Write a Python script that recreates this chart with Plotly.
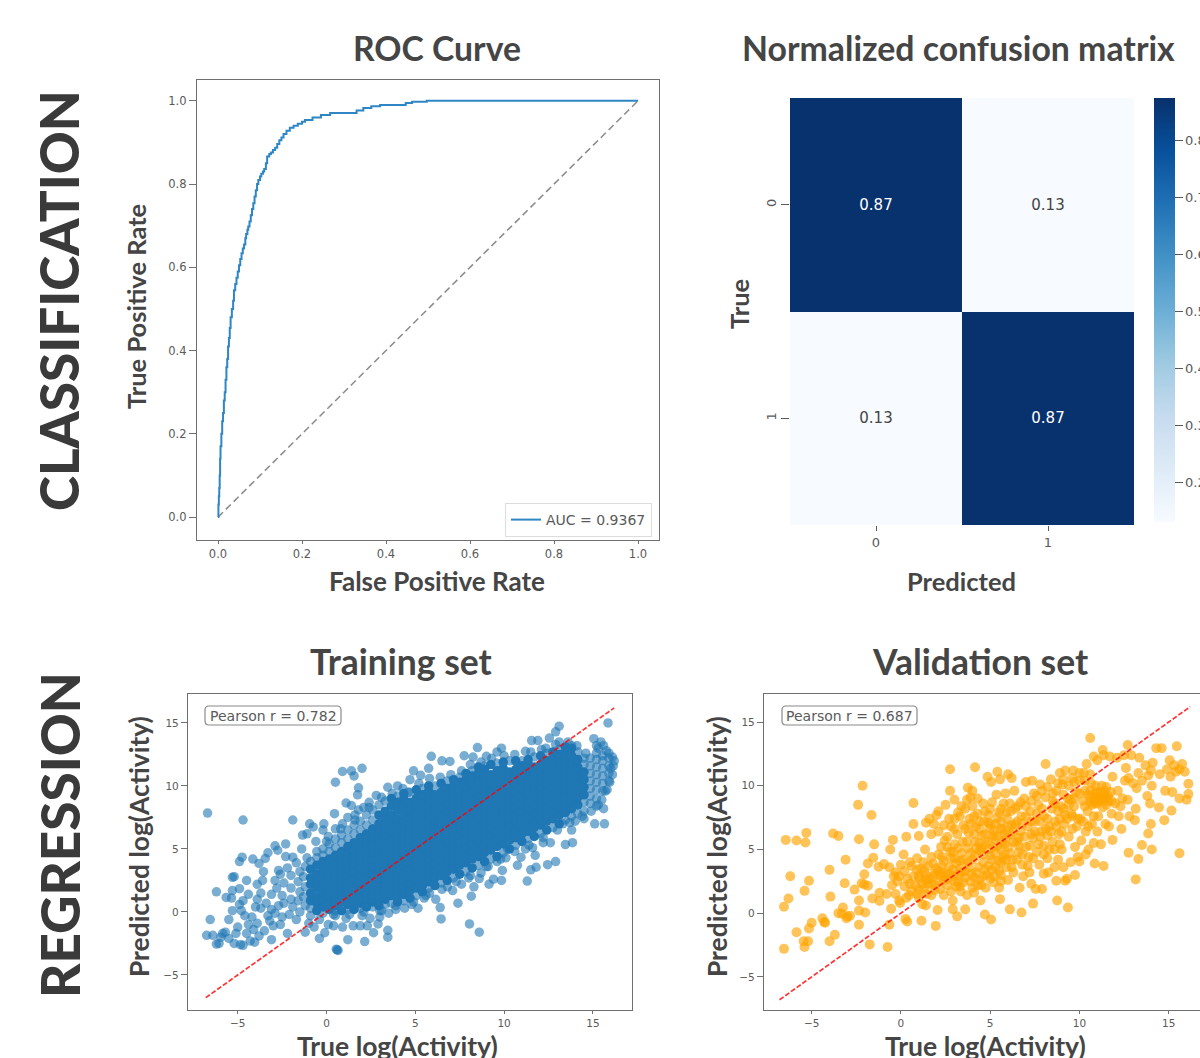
import plotly.graph_objects as go

W, H = 1200, 1058

# ---------- ROC ----------
roc_fpr = [0, 0.001, 0.002, 0.003, 0.004, 0.005, 0.006, 0.008, 0.01, 0.012, 0.014, 0.016, 0.018, 0.02, 0.022, 0.024, 0.026,
           0.028, 0.03, 0.033, 0.036, 0.038, 0.041, 0.044, 0.047, 0.05, 0.053, 0.056, 0.059, 0.062,
           0.065, 0.067, 0.07, 0.072, 0.075, 0.078, 0.081, 0.084, 0.087, 0.09, 0.093, 0.096, 0.1, 0.103, 0.107, 0.11, 0.114,
           0.117, 0.122, 0.126, 0.131, 0.136, 0.141, 0.146, 0.151, 0.156, 0.163, 0.171, 0.18,
           0.19, 0.2, 0.207, 0.225, 0.245, 0.267, 0.29, 0.314, 0.33, 0.346, 0.365, 0.386, 0.41, 0.433, 0.447, 0.462, 0.497,
           0.6, 0.8, 1.0]
roc_tpr = [0, 0.03, 0.05, 0.07, 0.1, 0.14, 0.17, 0.2, 0.23, 0.25, 0.28, 0.3, 0.33, 0.36, 0.38, 0.41, 0.43,
           0.454, 0.48, 0.5, 0.52, 0.545, 0.56, 0.575, 0.59, 0.605, 0.62, 0.634, 0.645, 0.655,
           0.67, 0.68, 0.69, 0.698, 0.71, 0.725, 0.74, 0.754, 0.77, 0.785, 0.8, 0.81, 0.818, 0.825, 0.83, 0.836, 0.85,
           0.866, 0.872, 0.876, 0.882, 0.887, 0.896, 0.905, 0.912, 0.92, 0.928, 0.935, 0.94,
           0.945, 0.95, 0.954, 0.96, 0.966, 0.971, 0.971, 0.971, 0.977, 0.983, 0.987, 0.99, 0.99, 0.99, 0.995, 0.998, 1.0,
           1.0, 1.0, 1.0]
diag_roc = [0, 1]
roc_label = "AUC = 0.9367"

# ---------- Confusion matrix ----------
cm_labels = [0, 1]
cm_values = [[0.87, 0.13], [0.13, 0.87]]
cb_ticks = [0.2, 0.3, 0.4, 0.5, 0.6, 0.7, 0.8]

# ---------- Regression ----------
diag_reg = [-6.8, 16.2]
pearson_train = "Pearson r = 0.782"
pearson_val = "Pearson r = 0.687"
reg_ticks = [-5, 0, 5, 10, 15]

train_core = {
 -0.9: [0.9, 1.5, 2.2, 2.7, 3.4],
 -0.55: [0.1, 0.7, 1.2, 1.9, 2.4, 3.0, 3.7],
 -0.2: [0.4, 1.0, 1.6, 2.1, 2.8, 3.3, 4.0],
 0.15: [0.2, 0.7, 1.3, 1.9, 2.5, 3.0, 3.6, 4.2],
 0.5: [0.5, 1.1, 1.6, 2.2, 2.8, 3.3, 3.9, 4.5],
 0.85: [0.1, 0.8, 1.4, 1.9, 2.5, 3.1, 3.7, 4.3, 4.8],
 1.2: [0.6, 1.2, 1.7, 2.3, 2.9, 3.4, 4.0, 4.6, 5.2],
 1.55: [0.2, 0.9, 1.5, 2.0, 2.6, 3.2, 3.8, 4.4, 4.9, 5.5],
 1.9: [0.7, 1.3, 1.8, 2.4, 3.0, 3.5, 4.1, 4.7, 5.3, 5.9],
 2.25: [0.4, 1.0, 1.6, 2.2, 2.7, 3.3, 3.9, 4.5, 5.0, 5.6, 6.2],
 2.6: [0.8, 1.4, 1.9, 2.5, 3.1, 3.6, 4.2, 4.8, 5.4, 6.0, 6.6],
 2.95: [0.5, 1.1, 1.7, 2.3, 2.8, 3.4, 4.0, 4.6, 5.1, 5.7, 6.3, 7.0, 7.7],
 3.3: [1.0, 1.5, 2.1, 2.6, 3.2, 3.8, 4.3, 4.9, 5.5, 6.1, 6.7, 7.4, 8.0],
 3.65: [1.3, 1.8, 2.4, 3.0, 3.5, 4.1, 4.7, 5.2, 5.8, 6.4, 7.1, 7.7, 8.4, 9.0],
 4.0: [0.8, 1.2, 1.6, 2.2, 2.7, 3.3, 3.9, 4.4, 5.0, 5.6, 6.2, 6.8, 7.4, 8.1, 8.7],
 4.35: [1.4, 2.0, 2.5, 3.1, 3.7, 4.2, 4.8, 5.3, 5.9, 6.5, 7.1, 7.8, 8.4, 9.0, 9.4],
 4.7: [1.1, 1.7, 2.3, 2.8, 3.4, 4.0, 4.5, 5.1, 5.7, 6.3, 6.9, 7.5, 8.1, 8.7],
 5.05: [1.9, 2.5, 3.1, 3.6, 4.2, 4.8, 5.4, 6.0, 6.6, 7.2, 7.8, 8.4, 9.0, 9.7],
 5.4: [1.6, 2.1, 2.7, 3.3, 3.9, 4.5, 5.1, 5.7, 6.3, 6.9, 7.5, 8.1, 8.7, 9.3],
 5.75: [2.4, 3.0, 3.6, 4.2, 4.8, 5.4, 6.0, 6.6, 7.2, 7.8, 8.4, 9.0, 9.6, 10.0],
 6.1: [2.1, 2.7, 3.3, 3.9, 4.5, 5.1, 5.7, 6.3, 6.9, 7.5, 8.1, 8.7, 9.3],
 6.45: [2.9, 3.5, 4.1, 4.7, 5.3, 5.9, 6.5, 7.1, 7.7, 8.3, 8.9, 9.5, 10.2],
 6.8: [2.5, 3.2, 3.8, 4.4, 5.0, 5.6, 6.2, 6.8, 7.4, 8.0, 8.6, 9.2, 9.8],
 7.15: [3.4, 4.0, 4.6, 5.2, 5.8, 6.4, 7.0, 7.6, 8.2, 8.8, 9.4, 10.0, 10.5],
 7.5: [3.0, 3.7, 4.3, 4.9, 5.5, 6.1, 6.7, 7.3, 7.9, 8.5, 9.1, 9.7, 10.3],
 7.85: [3.9, 4.5, 5.1, 5.7, 6.3, 6.9, 7.5, 8.1, 8.7, 9.3, 9.9, 10.5, 11.0],
 8.2: [3.5, 4.2, 4.8, 5.4, 6.0, 6.6, 7.2, 7.8, 8.4, 9.0, 9.6, 10.2, 10.8],
 8.55: [4.4, 5.0, 5.6, 6.2, 6.8, 7.4, 8.0, 8.6, 9.2, 9.8, 10.4, 11.0, 11.5],
 8.9: [4.0, 4.7, 5.3, 5.9, 6.5, 7.1, 7.7, 8.3, 8.9, 9.5, 10.1, 10.7, 11.3],
 9.25: [4.9, 5.5, 6.1, 6.7, 7.3, 7.9, 8.5, 9.1, 9.7, 10.3, 10.9, 11.7],
 9.6: [4.4, 5.2, 5.8, 6.4, 7.0, 7.6, 8.2, 8.8, 9.4, 10.0, 10.6, 11.2],
 9.95: [5.4, 6.0, 6.6, 7.2, 7.8, 8.4, 9.0, 9.6, 10.2, 10.8, 11.4, 11.9],
 10.3: [5.0, 5.7, 6.3, 6.9, 7.5, 8.1, 8.7, 9.3, 9.9, 10.5, 11.1],
 10.65: [5.9, 6.5, 7.1, 7.7, 8.3, 8.9, 9.5, 10.1, 10.7, 11.3, 12.0],
 11.0: [5.6, 6.2, 6.8, 7.4, 8.0, 8.6, 9.2, 9.8, 10.4, 11.0, 11.6],
 11.35: [6.4, 7.0, 7.6, 8.2, 8.8, 9.4, 10.0, 10.6, 11.2, 11.8, 12.1],
 11.7: [6.0, 6.7, 7.3, 7.9, 8.5, 9.1, 9.7, 10.3, 10.9, 11.5],
 12.05: [6.9, 7.5, 8.1, 8.7, 9.3, 9.9, 10.5, 11.1, 11.7, 12.4],
 12.4: [6.5, 7.2, 7.8, 8.4, 9.0, 9.6, 10.2, 10.8, 11.4, 12.0],
 12.75: [7.4, 8.0, 8.6, 9.2, 9.8, 10.4, 11.0, 11.6, 12.2, 12.7],
 13.1: [7.0, 7.7, 8.3, 8.9, 9.5, 10.1, 10.7, 11.3, 11.9, 12.5],
 13.45: [7.9, 8.5, 9.1, 9.7, 10.3, 10.9, 11.5, 12.1, 12.7, 13.1],
 13.8: [8.2, 8.8, 9.4, 10.0, 10.6, 11.2, 11.8, 12.4, 13.0],
 14.15: [8.5, 9.1, 9.7, 10.3, 10.9, 11.5, 12.1],
 14.5: [9.3, 9.9, 10.5, 11.1],
}

train_edge = [
 (-6.7,7.85),(-4.7,7.3),(-1.9,7.3),(0.5,10.3),(0.9,11.15),(1.4,11.2),(1.55,10.8),(2,11.4),(1.8,9.85),(1.75,9.3),
 (1.1,8.65),(1.4,8.45),(1.8,8.1),(2.4,8.7),(2.8,9.25),(3.45,9.9),(4,10),(4.6,9.5),(4.9,11.2),(4.7,10.5),(5.3,10.85),
 (5.75,11.4),(5.9,12.35),(6.5,12),(6.95,11.95),(7.75,12.4),(8.5,13.05),(8.25,12.3),(9,12.35),(9.6,12.7),(9.85,13),
 (11.2,12.75),(11.55,13.6),(11.9,13.6),(12.55,13.8),(12.9,14.3),(13.1,14.75),(13.1,13.5),(12.35,13),(15.85,15),
 (15.05,13.75),(15.45,13.5),(15.3,13.0),(15.75,12.8),(15.6,13.2),(16.1,12.3),(16.15,11.6),(16.1,10.9),(15.95,10.3),
 (15.7,9.6),(15.5,8.9),(15.2,8.4),(14.9,8.0),(15.6,8.2),(15.1,7.0),(15.65,7.0),(14.4,7.6),(14.0,7.2),(13.8,6.5),
 (13.3,7),(13.85,5.5),(13.45,5.35),(12.9,4),(12.45,3.75),(11.3,2.45),(9.85,2.5),(9.9,3.3),(9.4,2.6),(9.15,2.2),
 (8.6,2.65),(8.3,2),(8.15,1.25),(7.4,0.7),(8.6,-1.6),(8.05,-0.95),(6.45,-0.55),(6.4,0.35),(6.15,1),(5.15,0.3),
 (10.75,3.7),(11.5,3.35),(11.8,3.55),(11.75,4.5),(10.95,4.35),(10.1,4.3),(12.6,5.5),(12.2,5.5),(11.6,5.1),(11.2,5.0),
 (10.2,5.0),(9.6,4.0),(9.1,3.6),(8.7,3.1),(8.0,2.7),(7.6,2.2),(7.1,1.7),(6.8,2.0),(5.8,1.5),(5.5,1.1),(4.9,0.8),
 (4.4,0.3),(3.9,0.2),(3.5,-0.1),(3.1,0.1),(-6.2,1.6),(-6.55,-0.6),(-6.75,-1.85),(-6.4,-1.85),(-6.2,-2.55),(-6.05,-2.5),
 (-5.85,-1.7),(-5.7,-1.6),(-5.2,-2.5),(-4.7,-2.65),(-4.85,-2.6),(-5.5,-0.6),(-5.3,0.1),(-5.65,1.15),(-5.35,1.1),
 (-5.3,1.7),(-5.3,2.75),(-5.2,2.8),(-4.9,1.85),(-4.5,2.5),(-4.9,4),(-4.75,4.35),(-4.15,4.2),(-3.8,3.85),(-3.45,4.25),
 (-3.55,3.2),(-2.9,5.25),(-2.75,4.9),(-2.3,5.4),(-2.7,3.3),(-1.9,4.35),(-1.4,5),(-1.35,6.1),(-0.95,7),(-0.15,7),
 (-0.2,6.5),(0.45,7.8),(-0.75,6.75),(-1.1,6.2),(-0.6,5.6),(0.1,6.0),(0.5,6.6),(0.9,7.0),(1.2,7.5),(1.6,7.7),(2.1,8.3),
 (-4.9,0.6),(-4.7,0.9),(-5.0,-1.2),(-4.6,-0.3),(-4.4,-1.0),(-4.2,-0.4),(-4.5,-1.7),(-4.1,-1.4),(-3.9,-0.9),(-3.8,-1.9),
 (-3.5,-1.5),(-3.7,0.3),(-3.9,1.0),(-3.7,1.5),(-3.9,2.2),(-3.4,0.7),(-3.1,0.2),(-3.3,-0.3),(-2.9,-0.1),(-3.0,-1.1),
 (-3.1,-2.2),(-2.6,-1.0),(-2.5,-0.4),(-2.7,0.5),(-3.1,1.4),(-2.8,1.9),(-2.5,1.3),(-2.4,0.7),(-2.9,2.5),(-2.4,2.3),
 (-2.6,3.0),(-2.2,3.5),(-2.0,1.9),(-2.0,1.0),(-1.9,0.4),(-2.1,-0.2),(-2.2,-1.7),(-1.7,-0.6),(-1.5,0.0),(-1.6,0.9),
 (-1.5,1.6),(-1.6,2.4),(-1.5,3.2),(-1.7,3.9),(-1.2,0.5),(-1.3,1.2),(-1.2,2.0),(-1.3,2.8),(-1.2,3.6),(-1.1,4.3),
 (-1.2,-1.6),(-1.0,-0.9),(-0.9,-0.3),(-0.7,-1.2),(-0.4,-0.6),(-0.4,-2.1),(-0.1,-1.65),(0.1,-1.0),(0.4,-1.1),(0.6,-3),
 (0.55,-2.95),(0.65,-3.05),(0.5,-0.3),(0.9,-1.2),(1.1,-0.5),(1.2,-2.2),(1.5,-1.1),(1.9,-1.1),(2.15,-2.35),(2.0,-0.3),
 (2.45,-0.5),(2.65,-1.65),(2.9,-0.95),(3.45,-2),(3.45,-1.45),(2.3,-1.1),(3.0,-0.4),(-3.3,4.7),(-4.3,-2.3),(-4.05,-2.4),
 (-3.2,-0.7),(-3.6,2.5),(-4.4,1.4),(-4.8,0.1),(-4.0,0.4),(-5.1,-1.7),(-5.5,-2.1),(-5.95,-2.0),(-2.3,4.4),(-2.0,2.9),
 (0.0,5.6),(0.8,6.6),(1.6,7.3),(2.4,8.3),(3.1,9.1),(3.7,9.4),(4.3,9.8),(5.2,10.2),(5.8,10.6),(6.4,10.7),(7.0,10.9),(7.6,11.2),
 (8.1,11.7),(8.7,11.9),(9.3,12.2),(10.0,12.4),(10.6,12.5),(11.5,12.7),(12.1,12.9),(12.9,13.3),(13.6,13.5),(14.1,13.2),(14.6,12.6),
 (0.4,-0.2),(1.3,-0.2),(2.1,0.0),(3.0,0.1),(3.9,0.5),(4.8,0.6),(5.6,1.3),(6.5,1.8),(7.3,2.4),(8.1,2.9),(9.0,3.6),(9.8,4.2),(10.6,4.8),
 (11.4,5.3),(12.2,5.9),(13.0,6.5),(13.7,7.1),(14.5,7.4),(15.3,8.5),(15.8,9.7),(16.0,11.4),(16.2,12.0),(15.9,12.6),(15.2,13.2),
 (-0.9,0.3),(-0.9,4.0),(-0.55,4.3),(-0.55,4.8),(-0.2,-0.1),(-0.2,4.5),(-0.2,5.0),(0.15,4.8),(0.15,5.4),(0.5,0.1),(0.5,5.1),(0.5,5.8),
 (0.85,5.5),(0.85,6.1),(1.2,0.2),(1.2,5.8),(1.2,6.5),(1.55,6.2),(1.55,6.9),(1.9,0.3),(1.9,6.5),(1.9,7.2),(2.25,6.9),(2.25,7.7),
 (2.6,0.4),(2.6,7.3),(2.6,8.1),(2.95,8.5),(3.3,0.6),(3.3,8.8),(3.65,0.7),(4.0,9.2),(4.35,0.9),(4.7,9.5),(5.05,1.3),(5.4,9.8),(5.75,1.9),
 (6.1,10.0),(6.45,2.3),(6.8,10.4),(7.15,2.7),(7.5,10.7),(7.85,3.2),(8.2,11.2),(8.55,3.7),(8.9,11.6),(9.25,4.2),(9.6,11.8),(9.95,4.7),
 (10.3,12.0),(10.65,5.3),(11.0,12.0),(11.35,5.8),(11.7,12.3),(12.05,6.2),(12.4,12.6),(12.75,6.7),(13.1,12.9),(13.45,7.3),(13.8,7.6),
 (13.8,13.2),(14.15,7.8),(14.15,12.7),(14.5,8.0),(14.5,8.7),(14.5,11.7),(14.5,12.2),(14.85,8.6),(14.85,9.2),(14.85,9.8),(14.85,10.4),
 (14.85,11.0),(14.85,11.6),(14.85,12.2),(15.2,9.0),(15.2,9.7),(15.2,10.3),(15.2,10.9),(15.2,11.5),(15.2,12.1),(15.2,12.6),(15.55,9.6),
 (15.55,10.2),(15.55,10.8),(15.55,11.4),(15.55,12.0),(15.55,12.4),(15.9,10.4),(15.9,11.0),(15.9,11.6),(15.9,12.2),
]

val_points = [
 (-6.45,5.75),(-5.85,5.7),(-5.35,5.55),(-5.3,6.3),(-3.8,6.25),(-3.5,6.05),(-2.35,5.8),(-2.4,8.5),(-2.15,10),(-1.65,7.7),
 (-1.5,5.4),(-3.1,4.2),(-4,3.4),(-6.2,2.9),(-5.15,2.55),(-5.4,1.75),(-6.3,1.15),(-6.55,0.5),(-3.95,1.3),(-3.15,2.35),
 (-5.85,-1.5),(-6.55,-2.8),(-5.4,-2.65),(-5.2,-2.2),(-5.45,-2.2),(-5.15,-1.2),(-5,-0.75),(-4.4,-0.4),(-4.25,-0.75),
 (-4.3,-0.7),(-3.7,-1.7),(-4,-2.2),(-1.75,-2.45),(-0.75,-2.65),(-2.35,-0.9),(-0.65,-0.9),(-3.5,0),(-3.25,0.45),(-3.3,-0.05),
 (-3,-0.25),(-2.85,-0.2),(-3.05,-0.4),(-2.35,0.2),(-2,0.05),(-2.35,1),(-2.6,1.85),(-2.2,2.35),(-2.05,3.05),(-1.85,2.15),
 (-2.05,2.25),(-1.85,3.9),(-1.55,4.35),(-1.6,1.15),(-1.2,0.95),(-1.2,1.6),(-1.25,3.65),(-0.95,3.85),(-0.6,5),(-0.45,5.75),
 (0.3,6),(0.7,8.65),(0.7,7),(1,6.05),(2.75,11.3),(4.15,11.45),(2.75,9.6),(3.75,9.85),(10.6,13.75),(12.7,13.2),(11.3,12.8),
 (14.3,12.95),(14.6,12.95),(15.45,13.1),(15.05,12),(16.1,10.15),(16.1,9.35),(16,8.9),(15.6,9),(15.15,8.05),(14.45,8.3),
 (14.75,7.3),(14,7),(13.85,6.25),(13.5,5.35),(14.05,5),(15.6,4.7),(13.3,4.25),(12.75,4.75),(13.15,2.65),(11.85,5.75),
 (11.35,3.7),(10.85,3.9),(10.35,4.6),(10,4.05),(9.75,3),(9.2,2.55),(8.7,2.55),(8.75,1),(9.35,0.45),(7.4,0.75),(6.75,0.05),
 (6.1,0.3),(4.7,-0.1),(5.05,-0.5),(5.55,1.1),(3.6,0.3),(3.15,-0.25),(2.9,0.3),(2.05,0.25),(1.95,-1),(1.15,-0.6),(0.35,-0.65),
 (0.25,-0.45),(-0.05,0.8),(-0.55,0.35),(-0.4,2.9),(-0.65,3.6),(-0.3,3.2),(-0.8,1.5),(-0.5,2.2),(-0.2,2.5),(-0.3,1.5),
 (-0.1,1.0),(0.0,3.8),(0.15,4.6),(0.2,3.3),(0.35,2.7),(0.45,1.4),(0.5,4.0),(0.5,2.3),(0.6,3.7),(0.7,2.9),(0.8,2.2),(0.9,3.4),
 (0.9,4.3),(1.0,1.2),(1.0,1.9),(1.05,2.7),(1.1,3.5),(1.2,0.7),(1.25,4.0),(1.35,5.0),(1.4,3.0),(1.5,2.3),(1.45,1.5),(1.4,0.6),
 (1.4,7.1),(1.6,7.4),(1.55,3.7),(1.7,4.4),(1.7,6.2),(1.8,2.9),(1.85,7.0),(1.9,1.8),(2.0,3.5),(2.0,7.7),(2.1,4.6),(2.1,8.0),
 (2.15,2.5),(2.25,5.2),(2.3,3.2),(2.4,1.4),(2.4,4.1),(2.45,5.7),(2.5,8.5),(2.6,2.2),(2.6,6.0),(2.7,3.6),(2.75,4.8),(2.8,6.8),
 (2.9,1.0),(2.95,2.9),(3.0,4.3),(3.0,5.4),(3.0,7.4),(3.0,8.9),(3.1,2.1),(3.15,6.2),(3.2,7.9),(3.3,3.5),(3.35,1.7),(3.4,4.7),
 (3.45,5.6),(3.5,6.9),(3.6,8.2),(3.6,2.8),(3.7,1.4),(3.75,4.0),(3.75,5.1),(3.8,6.3),(3.85,7.4),(3.9,9.1),(3.95,3.1),(4.0,2.0),
 (4.0,8.4),(4.1,1.6),(4.15,4.5),(4.15,5.6),(4.2,6.8),(4.3,7.8),(4.3,9.0),(4.35,3.6),(4.4,2.6),(4.45,1.0),(4.5,5.1),(4.55,6.1),
 (4.6,4.0),(4.65,7.2),(4.7,8.0),(4.75,2.0),(4.8,3.0),(4.85,10.7),(4.9,5.6),(4.95,6.6),(5.0,4.5),(5.0,8.2),(5.05,10.3),(5.1,3.4),
 (5.2,2.4),(5.2,5.2),(5.25,6.1),(5.3,7.0),(5.35,9.3),(5.4,11.1),(5.45,4.1),(5.5,2.0),(5.5,7.9),(5.55,10.5),(5.6,3.0),(5.65,5.6),
 (5.7,6.6),(5.75,8.6),(5.8,4.6),(5.85,9.4),(5.9,3.6),(5.95,7.4),(6.0,2.6),(6.0,10.9),(6.05,5.2),(6.1,6.2),(6.15,8.0),(6.2,10.6),
 (6.25,4.2),(6.3,3.2),(6.35,9.6),(6.4,7.0),(6.5,5.6),(6.55,8.4),(6.6,4.8),(6.65,2.0),(6.7,6.4),(6.75,7.6),(6.8,3.8),(6.85,2.9),
 (6.9,9.0),(7.0,5.2),(7.0,10.3),(7.1,6.8),(7.15,4.4),(7.2,3.2),(7.25,8.0),(7.3,2.3),(7.35,10.4),(7.4,5.9),(7.45,9.4),(7.5,7.2),
 (7.55,1.9),(7.6,4.8),(7.7,8.5),(7.75,3.8),(7.8,10.1),(7.85,6.4),(7.9,1.9),(8.0,3.1),(8.0,5.3),(8.0,7.6),(8.1,11.7),(8.1,9.1),
 (8.2,4.3),(8.25,3.2),(8.3,6.8),(8.4,10.5),(8.45,8.2),(8.5,5.6),(8.6,3.6),(8.65,7.2),(8.7,9.6),(8.8,4.2),(8.85,6.2),(8.9,11.0),
 (8.95,8.4),(9.0,5.0),(9.05,10.1),(9.1,3.6),(9.15,7.0),(9.2,11.2),(9.3,2.7),(9.35,9.0),(9.4,6.0),(9.5,4.0),(9.55,7.8),(9.6,10.6),
 (9.65,11.2),(9.7,8.4),(9.75,5.2),(9.8,9.5),(9.85,6.8),(9.9,4.4),(10.0,10.4),(10.05,7.4),(10.1,5.7),(10.2,8.8),(10.25,11.0),
 (10.3,9.6),(10.35,6.4),(10.4,11.7),(10.45,8.0),(10.5,5.0),(10.6,9.1),(10.65,10.2),(10.7,7.0),(10.8,12.3),(10.8,5.5),(10.85,8.6),
 (10.9,9.5),(11.0,12.0),(11.0,6.4),(11.05,7.6),(11.1,9.0),(11.2,5.4),(11.25,10.0),(11.3,8.3),(11.35,12.4),(11.4,9.3),(11.45,7.0),
 (11.5,9.9),(11.6,8.8),(11.65,6.8),(11.7,12.3),(11.75,9.5),(11.8,7.8),(11.85,10.7),(12.0,8.6),(12.1,12.2),(12.15,9.6),(12.2,7.6),
 (12.3,8.4),(12.35,6.6),(12.4,9.0),(12.5,12.4),(12.55,10.4),(12.6,11.4),(12.7,8.9),(12.75,10.6),(12.8,7.6),(12.9,12.4),(13.0,10.2),
 (13.1,7.3),(13.15,8.2),(13.2,9.8),(13.3,11.0),(13.35,12.2),(13.5,10.4),(13.7,11.6),(13.8,9.2),(13.85,10.8),(13.95,8.6),(14.0,11.2),
 (14.05,10.0),(14.1,11.8),(14.5,10.9),(14.8,9.6),(14.9,11.3),(15.1,10.7),(15.2,9.5),(15.3,11.6),(15.4,11.1),(15.6,11.3),(15.75,11.7),
 (15.9,11.1),(5.6,4.0),(4.4,4.9),(5.1,5.9),(5.8,5.4),(4.7,5.4),(5.3,4.7),(4.9,7.1),(5.6,7.2),(6.2,6.9),(6.6,5.9),(7.3,6.2),(7.8,7.2),
 (8.2,6.1),(8.6,8.6),(9.1,9.3),(9.5,8.9),(10.7,8.5),(11.1,8.8),(11.4,8.9),(11.6,9.2),(3.4,3.2),(2.5,3.0),(3.1,3.9),(3.9,4.7),(1.9,3.1),
 (1.2,2.3),(1.3,3.3),(1.8,3.9),(2.2,3.0),(2.6,2.7),(2.9,3.4),(3.2,2.4),(3.6,3.3),(3.9,2.5),(4.2,3.2),(4.5,2.2),(4.7,3.4),(5.0,2.7),
 (5.3,3.6),(5.6,2.5),(5.9,4.2),(6.2,3.6),(6.5,4.2),(6.8,4.6),(7.1,3.7),(7.4,4.3),(7.7,5.4),(8.0,4.6),(8.3,5.0),(8.6,5.0),(8.9,5.4),
 (2.3,4.4),(2.6,5.2),(2.9,4.8),(3.2,5.1),(3.5,4.2),(3.7,5.6),(4.0,4.2),(4.2,5.1),(4.4,5.5),(4.6,4.6),(4.9,5.0),(5.1,4.2),(5.4,5.3),
 (5.6,5.0),(5.9,5.9),(6.1,4.7),(6.3,5.6),(6.6,5.3),(6.9,6.0),(7.2,5.3),(7.5,6.4),(7.8,6.0),(8.1,6.6),(8.4,6.4),(8.7,6.8),(9.0,6.4),
 (9.3,7.4),(9.6,6.6),(9.9,7.4),(10.2,7.2),(10.5,6.8),(10.8,7.6),(4.1,6.2),(4.4,6.6),(4.7,6.2),(5.0,7.0),(5.2,6.5),(5.4,6.0),(5.6,6.6),
 (5.8,6.2),(6.0,6.8),(6.3,6.4),(6.5,7.2),(6.8,7.0),(7.0,7.6),(7.3,7.2),(7.6,7.8),(7.9,8.2),(8.2,7.4),(8.5,8.8),(8.8,8.0),(9.1,8.2),
 (9.4,8.5),(9.7,9.0),(10.0,9.4),(10.3,8.4),(10.6,9.6),(10.9,10.0),(11.2,9.5),(11.5,9.0),(11.8,8.8),(3.6,6.6),(3.9,7.0),(4.1,7.6),(4.4,7.2),
 (4.6,8.6),(4.9,7.7),(5.1,8.7),(5.4,7.5),(5.6,8.2),(5.9,7.9),(6.1,8.6),(6.4,8.2),(6.7,8.7),(7.0,8.4),(7.3,8.8),(7.6,9.2),(7.9,9.6),
 (8.2,9.9),(8.5,9.4),(8.8,10.2),(9.1,10.5),(9.4,10.0),(9.7,10.3),(10.0,11.0),(10.3,10.4),(10.6,10.9),(2.1,6.4),(2.4,6.9),(2.7,7.4),(3.0,6.6),
 (3.3,7.6),(3.4,8.4),(3.7,8.9),(4.0,9.6),(1.0,2.9),(0.6,1.7),(0.2,2.1),(-0.1,2.9),(0.3,1.2),(1.7,1.4),(2.2,1.9),(2.8,1.7),(3.3,2.1),
 (0.9,1.5),(1.3,1.9),(1.6,2.7),(1.9,2.2),(2.1,3.3),(2.4,2.6),(2.7,3.1),(3.0,2.5),(3.2,3.0),(3.5,2.4),(3.8,3.6),(4.1,2.8),(4.3,2.2),(4.6,2.9),
 (4.9,3.7),(5.2,2.9),(5.5,3.3),(5.7,4.3),(1.7,2.3),(2.3,3.7),(1.4,2.6),(3.3,4.1),(2.8,4.3),(10.8,8.9),(11.0,9.4),(11.3,9.1),(11.5,8.5),(10.6,8.7),
 (11.2,8.9),(11.0,8.6),(10.9,9.1),(11.4,9.6),(10.5,9.3),(9.2,7.7),(9.6,7.6),(8.9,7.4),
]

train_x = [x for x, ys in train_core.items() for _ in ys]
train_y = [y for ys in train_core.values() for y in ys]
edge_x = [p[0] for p in train_edge]
edge_y = [p[1] for p in train_edge]
val_x = [p[0] for p in val_points]
val_y = [p[1] for p in val_points]


def dom_x(a, b):
    return [a / W, b / W]


def dom_y(top, bottom):
    return [1 - bottom / H, 1 - top / H]


TICKC = "#5a5a5a"
LINEC = "#707070"
TITLE = "#454545"
FF = "Lato"
tickfont = dict(family="DejaVu Sans", size=11.5, color=TICKC)
smalltick = dict(family="DejaVu Sans", size=10.5, color=TICKC)

fig = go.Figure()

fig.add_trace(go.Scatter(x=diag_roc, y=diag_roc, mode="lines", showlegend=False, xaxis="x", yaxis="y",
                         line=dict(color="#8a8a8a", width=1.5, dash="7px,4px")))
fig.add_trace(go.Scatter(x=roc_fpr, y=roc_tpr, mode="lines", name=roc_label, xaxis="x", yaxis="y",
                         line=dict(color="#2f86c5", width=2, shape="hv")))

fig.add_trace(go.Heatmap(z=cm_values, x=cm_labels, y=cm_labels, xaxis="x2", yaxis="y2", colorscale="Blues",
                         zmin=0.13, zmax=0.875, texttemplate="%{z:.2f}", textfont=dict(family="DejaVu Sans", size=15),
                         showscale=True,
                         colorbar=dict(x=1154 / W, xanchor="left", xpad=0, ypad=0, thickness=21, thicknessmode="pixels",
                                       len=424, lenmode="pixels", y=1 - 98 / H, yanchor="top", outlinewidth=0,
                                       tickmode="array", tickvals=cb_ticks, tickformat=".1f", ticks="outside",
                                       ticklen=8, tickcolor=TICKC, tickfont=dict(family="DejaVu Sans", size=13, color=TICKC))))

fig.add_trace(go.Scatter(x=train_x, y=train_y, mode="markers", showlegend=False, xaxis="x3", yaxis="y3",
                         marker=dict(color="#1f77b4", size=9.5, opacity=1, line=dict(width=0))))
fig.add_trace(go.Scatter(x=edge_x, y=edge_y, mode="markers", showlegend=False, xaxis="x3", yaxis="y3",
                         marker=dict(color="#1f77b4", size=9.5, opacity=0.6, line=dict(width=0))))
fig.add_trace(go.Scatter(x=diag_reg, y=diag_reg, mode="lines", showlegend=False, xaxis="x3", yaxis="y3",
                         line=dict(color="rgba(255,0,0,0.8)", width=1.7, dash="5px,2px")))
fig.add_trace(go.Scatter(x=val_x, y=val_y, mode="markers", showlegend=False, xaxis="x4", yaxis="y4",
                         marker=dict(color="orange", size=10, opacity=0.65, line=dict(width=0))))
fig.add_trace(go.Scatter(x=diag_reg, y=diag_reg, mode="lines", showlegend=False, xaxis="x4", yaxis="y4",
                         line=dict(color="rgba(255,0,0,0.8)", width=1.7, dash="5px,2px")))


def boxed(font=tickfont, ticklen=4, **kw):
    return dict(showgrid=False, zeroline=False, showline=True, linecolor=LINEC, linewidth=1.3, mirror=True,
                ticks="outside", ticklen=ticklen, tickcolor=LINEC, tickfont=font, **kw)


roc_ticks = [0, 0.2, 0.4, 0.6, 0.8, 1.0]
fig.update_layout(
    width=W, height=H, margin=dict(l=0, r=0, t=0, b=0, autoexpand=False),
    paper_bgcolor="white", plot_bgcolor="white",
    xaxis=boxed(domain=dom_x(197, 659), range=[-0.05, 1.05], tickvals=roc_ticks, tickformat=".1f", anchor="y", ticklen=3),
    yaxis=boxed(domain=dom_y(80, 540), range=[-0.055, 1.05], tickvals=roc_ticks, tickformat=".1f", anchor="x", ticklen=7),
    xaxis2=dict(domain=dom_x(790, 1134), range=[-0.5, 1.5], tickvals=cm_labels, showgrid=False, zeroline=False,
                ticks="outside", ticklen=5, tickcolor=TICKC, tickfont=dict(family="DejaVu Sans", size=13, color=TICKC), anchor="y2"),
    yaxis2=dict(domain=dom_y(98, 525), range=[1.5, -0.5], tickvals=cm_labels, showgrid=False, zeroline=False,
                ticks="outside", ticklen=8, tickcolor=TICKC, tickangle=-90, tickfont=dict(family="DejaVu Sans", size=13, color=TICKC), anchor="x2"),
    xaxis3=boxed(domain=dom_x(188, 632), range=[-7.8, 17.2], tickvals=reg_ticks, anchor="y3", font=smalltick, ticklen=3),
    yaxis3=boxed(domain=dom_y(694, 1010), range=[-7.78, 17.3], tickvals=reg_ticks, anchor="x3", font=smalltick, ticklen=6),
    xaxis4=boxed(domain=dom_x(764, 1200), range=[-7.67, 16.75], tickvals=reg_ticks, anchor="y4", font=smalltick, ticklen=3),
    yaxis4=boxed(domain=dom_y(694, 1010), range=[-7.6, 17.2], tickvals=reg_ticks, anchor="x4", font=smalltick, ticklen=6),
    legend=dict(x=505 / W, y=1 - 503 / H, xanchor="left", yanchor="top", bordercolor="#dddddd", borderwidth=1,
                bgcolor="white", font=dict(family="DejaVu Sans", size=14, color=TICKC)),
    font=dict(family=FF),
)


def label(text, px, py, size, angle=0, color=TITLE, weight=700):
    fig.add_annotation(text=text, x=px / W, y=1 - py / H, xref="paper", yref="paper", showarrow=False,
                       xanchor="center", yanchor="middle", textangle=angle,
                       font=dict(family=FF, size=size, color=color, weight=weight))


label("CLASSIFICATION", 59, 301, 53, -90, "#3a3a3a", 900)
label("REGRESSION", 59, 835, 53, -90, "#3a3a3a", 900)
label("ROC Curve", 437, 47.5, 33.7)
label("Normalized confusion matrix", 958, 47.5, 33.8)
label("Training set", 401, 661, 35.5)
label("Validation set", 980, 661, 35.5)
label("False Positive Rate", 437, 581, 26)
label("True Positive Rate", 136, 307, 25.5, -90)
label("Predicted", 961, 581, 25.5)
label("True", 739, 304, 25.5, -90)
label("True log(Activity)", 397, 1046, 26.5)
label("Predicted log(Activity)", 139, 847, 26.4, -90)
label("True log(Activity)", 985, 1046, 26.5)
label("Predicted log(Activity)", 717, 847, 26.4, -90)


def rounded_box(x0, x1, y0, y1, r=4):
    a, b = x0 / W, x1 / W
    c, d = 1 - y0 / H, 1 - y1 / H
    rx, ry = r / W, r / H
    path = (f"M {a+rx} {c} L {b-rx} {c} Q {b} {c} {b} {c-ry} L {b} {d+ry} Q {b} {d} {b-rx} {d} "
            f"L {a+rx} {d} Q {a} {d} {a} {d+ry} L {a} {c-ry} Q {a} {c} {a+rx} {c} Z")
    fig.add_shape(type="path", path=path, xref="paper", yref="paper", fillcolor="white",
                  line=dict(color="#8a8a8a", width=1.2), layer="above")


rounded_box(205, 341, 706, 725)
rounded_box(782, 917, 706, 725)
for text, px in [(pearson_train, 273), (pearson_val, 849.5)]:
    fig.add_annotation(text=text, x=px / W, y=1 - 715.5 / H, xref="paper", yref="paper", showarrow=False,
                       xanchor="center", yanchor="middle",
                       font=dict(family="DejaVu Sans", size=14, color=TICKC))

fig.write_html("out.html", config={"displayModeBar": False},
               post_script="document.body.style.margin='0';document.body.style.overflow='hidden';")
